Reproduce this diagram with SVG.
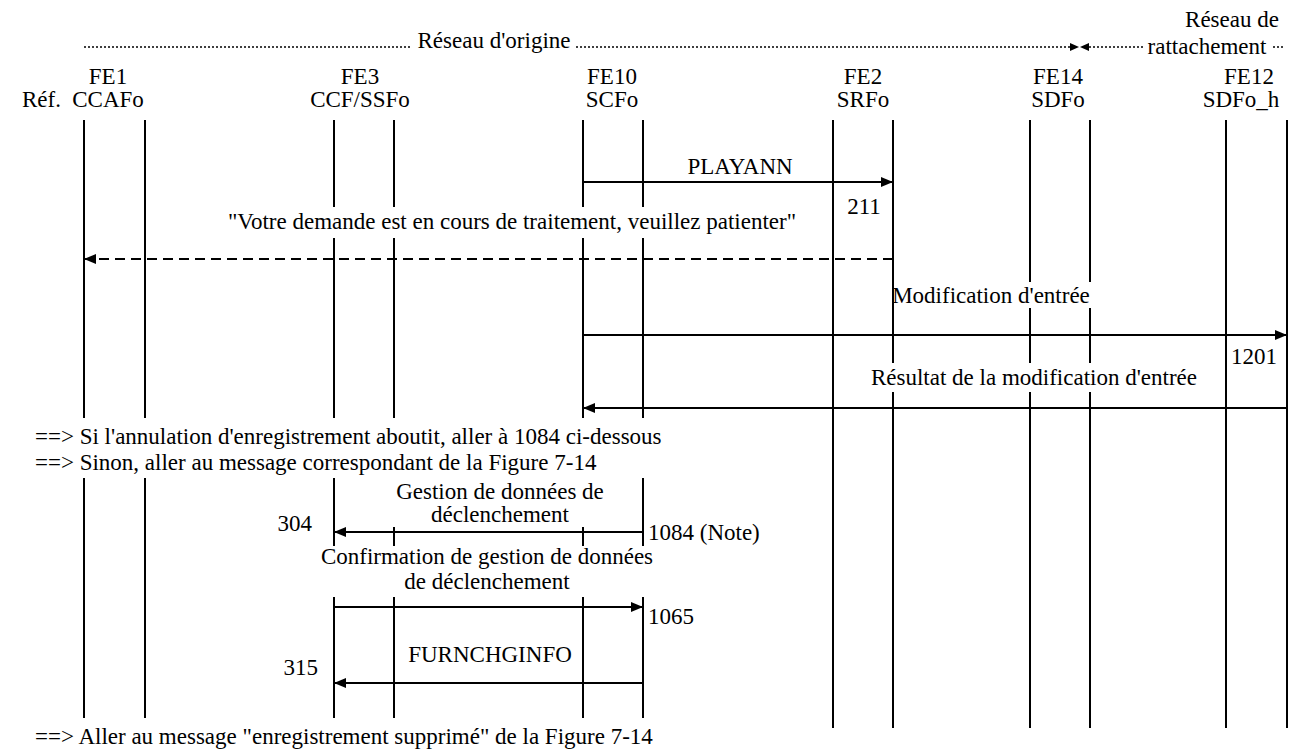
<svg xmlns="http://www.w3.org/2000/svg" width="1295" height="749" viewBox="0 0 1295 749" font-family="Liberation Serif, Times New Roman, serif">
<style>
text{font-size:23px;fill:#000}
.m{text-anchor:middle}
.e{text-anchor:end}
.ll{stroke:#000;stroke-width:2;fill:none}
.msg{stroke:#000;stroke-width:2;fill:none;marker-end:url(#ah)}
.dash{stroke-dasharray:10,6}
.dot{stroke:#000;stroke-width:1.6;stroke-dasharray:2,2;fill:none}
.bg{fill:#fff}
</style>
<defs>
<marker id="ah" viewBox="0 0 12 10" refX="12" refY="5" markerWidth="12" markerHeight="10" orient="auto" markerUnits="userSpaceOnUse"><path d="M0,0 L12,5 L0,10 z" fill="#000"/></marker>
</defs>
<rect width="1295" height="749" fill="#fff"/>
<g id="header">
<line class="dot" x1="84" y1="47" x2="1071" y2="47"/>
<path d="M1070,43 L1079,47 L1070,51 z" fill="#000"/>
<path d="M1089,43 L1080,47 L1089,51 z" fill="#000"/>
<line class="dot" x1="1089" y1="47" x2="1284" y2="47"/>
<rect class="bg" x="412" y="28" width="164" height="22"/>
<text class="m" x="494" y="48">Réseau d'origine</text>
<text class="m" x="1232" y="27">Réseau de</text>
<rect class="bg" x="1143" y="40" width="128" height="18"/>
<text class="m" x="1207" y="54">rattachement</text>
<text x="22" y="107">Réf.</text>
</g>
<g id="lifelines">
<line class="ll" x1="84" y1="120" x2="84" y2="718"/>
<line class="ll" x1="145" y1="120" x2="145" y2="718"/>
<line class="ll" x1="334" y1="120" x2="334" y2="718"/>
<line class="ll" x1="394" y1="120" x2="394" y2="718"/>
<line class="ll" x1="583" y1="120" x2="583" y2="718"/>
<line class="ll" x1="643" y1="120" x2="643" y2="718"/>
<line class="ll" x1="833" y1="120" x2="833" y2="728"/>
<line class="ll" x1="893" y1="120" x2="893" y2="728"/>
<line class="ll" x1="1030" y1="120" x2="1030" y2="728"/>
<line class="ll" x1="1090" y1="120" x2="1090" y2="728"/>
<line class="ll" x1="1226" y1="120" x2="1226" y2="728"/>
<line class="ll" x1="1287" y1="120" x2="1287" y2="728"/>
</g>
<g id="FE1"><text class="m" x="108" y="84">FE1</text><text class="m" x="108" y="107">CCAFo</text></g>
<g id="FE3"><text class="m" x="360" y="84">FE3</text><text class="m" x="360" y="107">CCF/SSFo</text></g>
<g id="FE10"><text class="m" x="612" y="84">FE10</text><text class="m" x="612" y="107">SCFo</text></g>
<g id="FE2"><text class="m" x="863" y="84">FE2</text><text class="m" x="863" y="107">SRFo</text></g>
<g id="FE14"><text class="m" x="1058" y="84">FE14</text><text class="m" x="1058" y="107">SDFo</text></g>
<g id="FE12"><text class="m" x="1249" y="84">FE12</text><text class="m" x="1241" y="107">SDFo_h</text></g>
<g id="backgrounds">
<rect class="bg" x="210" y="207" width="604" height="31"/>
<rect class="bg" x="897" y="282" width="198" height="26"/>
<rect class="bg" x="852" y="363" width="366" height="29"/>
<rect class="bg" x="30" y="418" width="632" height="60"/>
<rect class="bg" x="378" y="478" width="244" height="49"/>
<rect class="bg" x="306" y="546" width="362" height="51"/>
</g>
<g id="connectors">
<line class="msg" x1="583" y1="182" x2="893" y2="182"/>
<line class="msg dash" x1="893" y1="259" x2="84" y2="259"/>
<line class="msg" x1="583" y1="335" x2="1287" y2="335"/>
<line class="msg" x1="1287" y1="408" x2="583" y2="408"/>
<line class="msg" x1="643" y1="532" x2="334" y2="532"/>
<line class="msg" x1="334" y1="607" x2="643" y2="607"/>
<line class="msg" x1="643" y1="683" x2="334" y2="683"/>
</g>
<g id="labels">
<text class="m" x="740" y="174">PLAYANN</text>
<text class="m" x="864" y="214">211</text>
<text class="m" x="512" y="229">"Votre demande est en cours de traitement, veuillez patienter"</text>
<text class="m" x="991" y="303">Modification d'entrée</text>
<text class="m" x="1254" y="364">1201</text>
<text class="m" x="1034" y="385">Résultat de la modification d'entrée</text>
<text x="35" y="444">==&gt; Si l'annulation d'enregistrement aboutit, aller à 1084 ci-dessous</text>
<text x="35" y="470">==&gt; Sinon, aller au message correspondant de la Figure 7-14</text>
<text class="m" x="500" y="499">Gestion de données de</text>
<text class="m" x="500" y="522">déclenchement</text>
<text class="e" x="312" y="531">304</text>
<text x="648" y="540">1084 (Note)</text>
<text class="m" x="487" y="564">Confirmation de gestion de données</text>
<text class="m" x="487" y="589">de déclenchement</text>
<text x="648" y="624">1065</text>
<text class="m" x="490" y="662">FURNCHGINFO</text>
<text class="e" x="318" y="675">315</text>
<text x="35" y="744">==&gt; Aller au message "enregistrement supprimé" de la Figure 7-14</text>
</g>
</svg>
